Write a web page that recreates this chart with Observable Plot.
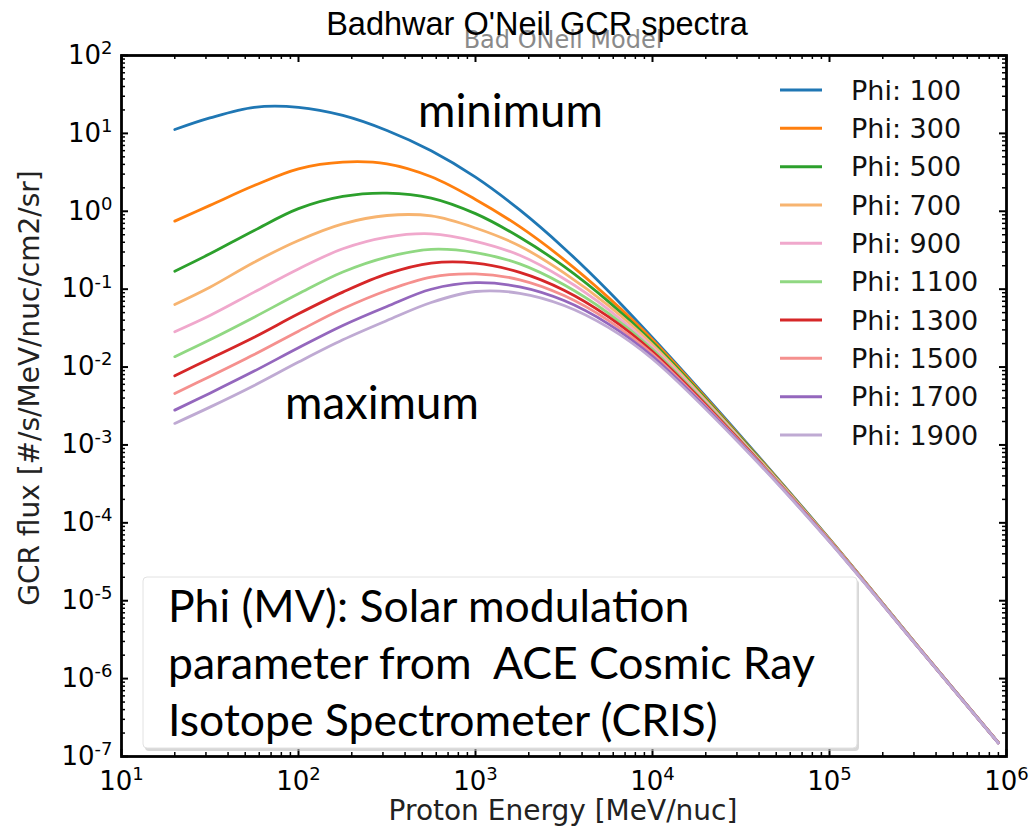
<!DOCTYPE html>
<html><head><meta charset="utf-8">
<script src="https://cdn.jsdelivr.net/npm/d3@7"></script>
<script src="https://cdn.jsdelivr.net/npm/@observablehq/plot@0.6"></script>
<style>html,body{margin:0;padding:0;background:#fff}</style>
</head><body><div id="chart"></div>
<script>
// ---- data ----
const energy = [20, 31.6, 56.2, 100, 178, 316, 562, 1000, 1778, 3162, 5623, 10000, 31623, 100000, 316228, 900000];
const phiValues = [100, 300, 500, 700, 900, 1100, 1300, 1500, 1700, 1900];
const phiLabels = ["Phi: 100","Phi: 300","Phi: 500","Phi: 700","Phi: 900","Phi: 1100","Phi: 1300","Phi: 1500","Phi: 1700","Phi: 1900"];
const colors = ["#1f77b4","#ff7f0e","#2ca02c","#f7b470","#f0a8cc","#90d882","#d62728","#f5908e","#9467bd","#bfaad3"];
const flux_100  = [11.2, 15.8, 21.6, 21.6, 17.0, 10.9, 5.98, 2.74, 1.04, 0.336, 0.0948, 0.0238, 1.29e-3, 6.21e-5, 2.60e-6, 1.51e-7];
const flux_300  = [0.747, 1.19, 2.14, 3.51, 4.28, 4.06, 2.77, 1.42, 0.634, 0.240, 0.0785, 0.0225, 1.25e-3, 6.15e-5, 2.59e-6, 1.51e-7];
const flux_500  = [0.170, 0.284, 0.567, 1.08, 1.55, 1.71, 1.48, 0.933, 0.464, 0.196, 0.0697, 0.0209, 1.22e-3, 6.10e-5, 2.58e-6, 1.50e-7];
const flux_700  = [0.0636, 0.106, 0.222, 0.422, 0.690, 0.883, 0.871, 0.610, 0.359, 0.162, 0.0618, 0.0195, 1.18e-3, 6.05e-5, 2.58e-6, 1.50e-7];
const flux_900  = [0.0284, 0.0459, 0.0916, 0.182, 0.330, 0.466, 0.513, 0.412, 0.272, 0.136, 0.0552, 0.0181, 1.15e-3, 6.00e-5, 2.57e-6, 1.50e-7];
const flux_1100 = [0.0136, 0.0224, 0.0437, 0.0873, 0.166, 0.258, 0.324, 0.295, 0.211, 0.114, 0.0493, 0.0169, 1.12e-3, 5.94e-5, 2.56e-6, 1.50e-7];
const flux_1300 = [7.73e-3, 0.0128, 0.0242, 0.0483, 0.0916, 0.157, 0.216, 0.216, 0.164, 0.0968, 0.0443, 0.0158, 1.09e-3, 5.89e-5, 2.55e-6, 1.50e-7];
const flux_1500 = [4.58e-3, 7.57e-3, 0.0145, 0.0289, 0.0560, 0.0962, 0.143, 0.157, 0.132, 0.0828, 0.0398, 0.0147, 1.06e-3, 5.84e-5, 2.55e-6, 1.50e-7];
const flux_1700 = [2.80e-3, 4.62e-3, 8.87e-3, 0.0177, 0.0342, 0.0600, 0.0997, 0.121, 0.107, 0.0714, 0.0359, 0.0137, 1.03e-3, 5.77e-5, 2.54e-6, 1.49e-7];
const flux_1900 = [1.89e-3, 3.06e-3, 5.81e-3, 0.0116, 0.0224, 0.0396, 0.0675, 0.0933, 0.0886, 0.0618, 0.0323, 0.0127, 1.00e-3, 5.71e-5, 2.53e-6, 1.49e-7];
const xMajor = [10, 100, 1e3, 1e4, 1e5, 1e6];
const yMajor = [1e-7, 1e-6, 1e-5, 1e-4, 1e-3, 1e-2, 1e-1, 1, 10, 100];
const titleText = "Badhwar O'Neil GCR spectra";
const subTitleText = "Bad ONeil Model";
const xLabel = "Proton Energy [MeV/nuc]";
const yLabel = "GCR flux [#/s/MeV/nuc/cm2/sr]";
const noteLines = ["Phi (MV): Solar modulation", "parameter from  ACE Cosmic Ray", "Isotope Spectrometer (CRIS)"];

// ---- build ----
const series = [flux_100, flux_300, flux_500, flux_700, flux_900, flux_1100, flux_1300, flux_1500, flux_1700, flux_1900];
const rows = series.flatMap((s, i) => s.map((f, j) => ({phi: phiValues[i], E: energy[j], F: f})));
const mult = [2,3,4,5,6,7,8,9];
const xMinor = xMajor.slice(0, -1).flatMap(m => mult.map(k => k * m));
const yMinor = yMajor.slice(0, -1).flatMap(m => mult.map(k => k * m));

const W = 1031, H = 831, ML = 121, MR = 25, MT = 55, MB = 75;
const FW = W - ML - MR, FH = H - MT - MB;
const fmt = d => "10^" + Math.round(Math.log10(d));

const chart = Plot.plot({
  width: W, height: H,
  marginLeft: ML, marginRight: MR, marginTop: MT, marginBottom: MB,
  style: {fontFamily: "DejaVu Sans", background: "#fff", color: "#000"},
  x: {type: "log", domain: [10, 1e6]},
  y: {type: "log", domain: [1e-7, 1e2]},
  marks: [
    ...phiValues.map((p, i) => Plot.line(rows.filter(r => r.phi === p), {
      x: "E", y: "F", stroke: colors[i], strokeWidth: 2.8, curve: "catmull-rom"
    })),
    Plot.ruleX(xMajor, {x: d => d, insetTop: FH - 7, stroke: "#000", strokeWidth: 2}),
    Plot.ruleX(xMajor, {x: d => d, insetBottom: FH - 7, stroke: "#000", strokeWidth: 2}),
    Plot.ruleX(xMinor, {x: d => d, insetTop: FH - 4, stroke: "#000", strokeWidth: 1.5}),
    Plot.ruleX(xMinor, {x: d => d, insetBottom: FH - 4, stroke: "#000", strokeWidth: 1.5}),
    Plot.ruleY(yMajor, {y: d => d, insetRight: FW - 7, stroke: "#000", strokeWidth: 2}),
    Plot.ruleY(yMajor, {y: d => d, insetLeft: FW - 7, stroke: "#000", strokeWidth: 2}),
    Plot.ruleY(yMinor, {y: d => d, insetRight: FW - 4, stroke: "#000", strokeWidth: 1.5}),
    Plot.ruleY(yMinor, {y: d => d, insetLeft: FW - 4, stroke: "#000", strokeWidth: 1.5}),
    Plot.frame({stroke: "#000", strokeWidth: 2.8}),
    Plot.axisX(xMajor, {tickSize: 0, tickPadding: 15, tickFormat: fmt, fontSize: 26, label: null}),
    Plot.axisY(yMajor, {tickSize: 0, tickPadding: 9, tickFormat: fmt, fontSize: 26, label: null})
  ]
});
document.getElementById("chart").appendChild(chart);

// superscripts on tick labels
d3.select(chart).selectAll('g[aria-label="x-axis tick label"] text, g[aria-label="y-axis tick label"] text').each(function() {
  const t = this.textContent;
  const m = t.match(/^10\^(-?\d+)$/);
  if (!m) return;
  const sel = d3.select(this);
  sel.text(null);
  sel.append("tspan").text("10");
  sel.append("tspan").attr("dy", "-0.55em").attr("font-size", "18px").text(m[1]);
});

const svg = d3.select(chart);
const addText = (x, y, txt, opts = {}) => svg.append("text")
  .attr("x", x).attr("y", y)
  .attr("text-anchor", opts.anchor || "start")
  .attr("font-family", opts.family || "DejaVu Sans")
  .attr("font-size", opts.size || 26)
  .attr("fill", opts.fill || "#000")
  .style("white-space", "pre")
  .text(txt);

// subtitle (grey) then title
addText(563, 48, subTitleText, {anchor: "middle", size: 24, fill: "#8a8a8a"});
addText(537, 35, titleText, {anchor: "middle", size: 32.5, family: "Liberation Sans, Arial"});
// axis labels
addText(563, 820, xLabel, {anchor: "middle", size: 28, fill: "#222"});
svg.append("text").attr("transform", "translate(39,388) rotate(-90)").attr("text-anchor", "middle")
  .attr("font-family", "DejaVu Sans").attr("font-size", 28).attr("fill", "#222").text(yLabel);

// legend
phiLabels.forEach((lab, i) => {
  const y = 90 + i * 38.33;
  svg.append("line").attr("x1", 780).attr("x2", 822).attr("y1", y).attr("y2", y)
    .attr("stroke", colors[i]).attr("stroke-width", 3);
  addText(851, y, lab, {size: 27, fill: "#111"}).attr("dy", "0.36em");
});

// annotations
addText(418, 127, "minimum", {family: "Lato", size: 45.5});
addText(285, 419, "maximum", {family: "Lato", size: 45.5});

// note box
svg.append("rect").attr("x", 145).attr("y", 580).attr("width", 714).attr("height", 171).attr("rx", 4)
  .attr("fill", "#bdbdbd").attr("opacity", 0.6);
svg.append("rect").attr("x", 143).attr("y", 577).attr("width", 714).attr("height", 171).attr("rx", 4)
  .attr("fill", "#fff").attr("stroke", "#e2e2e2").attr("stroke-width", 1);
noteLines.forEach((ln, i) => addText(168, 622 + i * 57, ln, {family: "Lato", size: 44.5}));
</script></body></html>
